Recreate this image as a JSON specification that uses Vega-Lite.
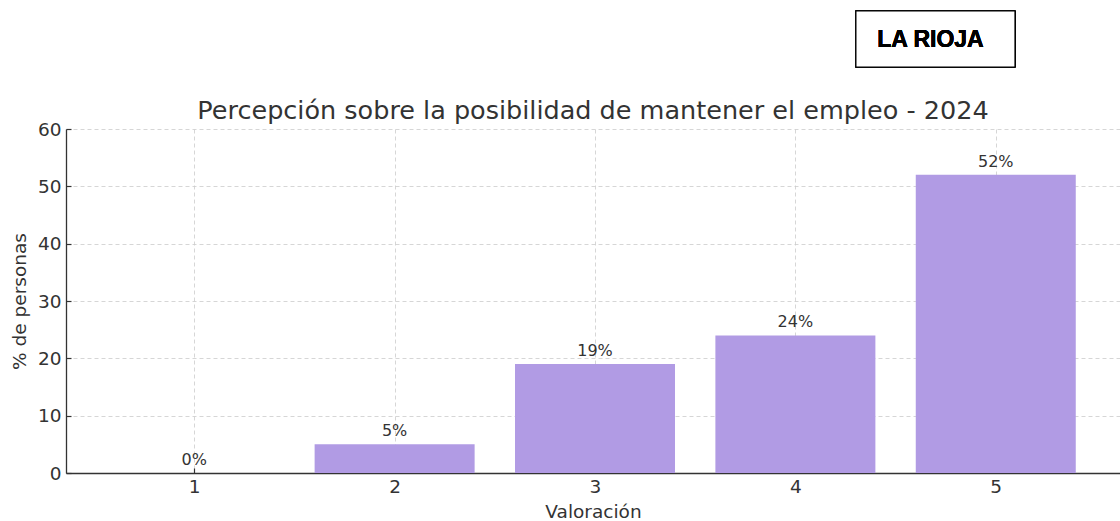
{
  "$schema": "https://vega.github.io/schema/vega-lite/v6.json",
  "autosize": {"type": "none"},
  "padding": {"left": 66, "top": 129, "right": 0, "bottom": 48},
  "width": 1054,
  "height": 344,
  "background": "white",
  "title": {
    "text": "Percepción sobre la posibilidad de mantener el empleo - 2024",
    "font": "DejaVu Sans",
    "fontSize": 25.5,
    "fontWeight": "normal",
    "color": "#333333",
    "anchor": "middle",
    "offset": 8,
    "dy": 122
  },
  "config": {
    "view": {"stroke": null},
    "axis": {
      "labelFont": "DejaVu Sans",
      "labelFontSize": 18.5,
      "labelColor": "#333333",
      "titleFont": "DejaVu Sans",
      "titleFontSize": 18.5,
      "titleFontWeight": "normal",
      "titleColor": "#333333",
      "domainColor": "#333333",
      "domainWidth": 1.3,
      "tickColor": "#333333",
      "tickSize": -5,
      "tickWidth": 1.2,
      "gridColor": "#cccccc",
      "gridDash": [4, 3],
      "gridWidth": 0.8
    }
  },
  "data": {
    "values": [
      {"valoracion": 1, "pct": 0, "label": "0%"},
      {"valoracion": 2, "pct": 5, "label": "5%"},
      {"valoracion": 3, "pct": 19, "label": "19%"},
      {"valoracion": 4, "pct": 24, "label": "24%"},
      {"valoracion": 5, "pct": 52, "label": "52%"}
    ]
  },
  "layer": [
    {
      "mark": {"type": "bar", "size": 160, "color": "#b19be4"},
      "encoding": {
        "x": {
          "field": "valoracion",
          "type": "quantitative",
          "scale": {"domain": [0.36, 5.62], "nice": false, "zero": false, "padding": 0},
          "axis": {"values": [1, 2, 3, 4, 5], "title": "Valoración", "labelPadding": 9, "titlePadding": 7, "format": "d"}
        },
        "y": {
          "field": "pct",
          "type": "quantitative",
          "scale": {"domain": [0, 60], "nice": false},
          "axis": {"values": [0, 10, 20, 30, 40, 50, 60], "title": "% de personas", "labelPadding": 10, "titlePadding": 8}
        }
      }
    },
    {
      "mark": {"type": "text", "font": "DejaVu Sans", "fontSize": 16, "color": "#333333", "baseline": "bottom", "dy": -5},
      "encoding": {
        "x": {"field": "valoracion", "type": "quantitative"},
        "y": {"field": "pct", "type": "quantitative"},
        "text": {"field": "label"}
      }
    },
    {
      "mark": {"type": "rect", "fill": "white", "stroke": "black", "strokeWidth": 1.2},
      "encoding": {
        "x": {"datum": 4.302},
        "x2": {"datum": 5.096},
        "y": {"datum": 80.58},
        "y2": {"datum": 70.81}
      }
    },
    {
      "mark": {"type": "text", "font": "Liberation Sans", "fontWeight": "bold", "fontSize": 23, "color": "black", "baseline": "middle", "align": "center"},
      "encoding": {
        "x": {"datum": 4.674},
        "y": {"datum": 75.52},
        "text": {"value": "LA RIOJA"}
      }
    }
  ]
}
